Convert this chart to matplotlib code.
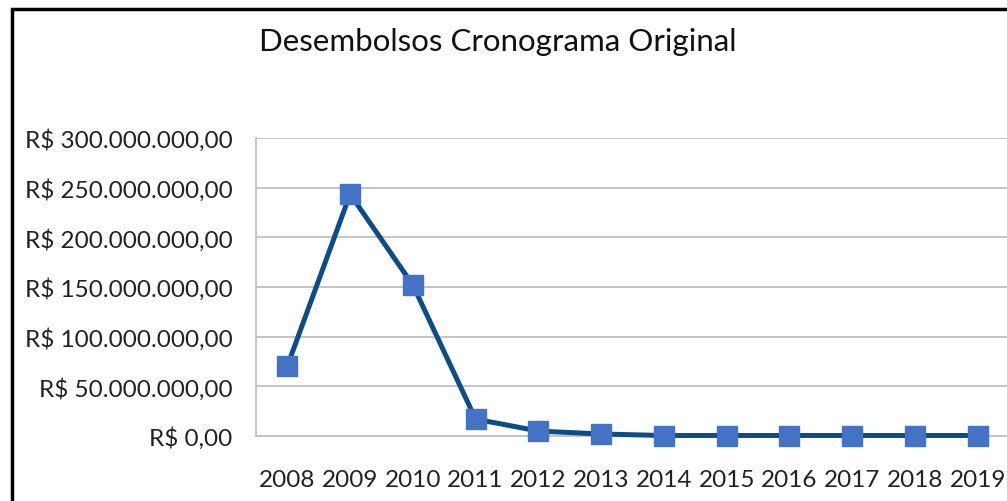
import matplotlib
matplotlib.use("Agg")
import matplotlib.pyplot as plt
from matplotlib.ticker import FuncFormatter, MultipleLocator
from matplotlib.patches import Rectangle

years = ["2008", "2009", "2010", "2011", "2012", "2013", "2014", "2015", "2016", "2017", "2018", "2019"]
values = [70_500_000, 243_500_000, 152_000_000, 17_000_000, 5_000_000, 2_000_000,
          500_000, 500_000, 500_000, 500_000, 500_000, 500_000]

plt.rcParams['font.family'] = ['Lato', 'DejaVu Sans']

W, H = 1007, 502
fig = plt.figure(figsize=(W / 100, H / 100), dpi=100)
ax = fig.add_axes([256 / W, 1 - 437 / H, (1009 - 256) / W, (437 - 139) / H])

x = list(range(len(years)))
ax.plot(x, values, color="#0E4C85", linewidth=3.6, marker="s", markersize=14,
        markerfacecolor="#4472C4", markeredgecolor="#4472C4", zorder=3, clip_on=False)

ax.set_xlim(-0.5, len(years) - 0.5)
ax.set_ylim(0, 300_000_000)
ax.yaxis.set_major_locator(MultipleLocator(50_000_000))

def fmt(v, pos):
    s = f"{int(round(v)):,}".replace(",", ".")
    return f"R$ {s},00"

ax.yaxis.set_major_formatter(FuncFormatter(fmt))
ax.set_xticks(x)
ax.set_xticklabels(years)
ax.tick_params(axis="both", length=0, labelsize=17.5, colors="#222222")
ax.tick_params(axis="y", pad=17)
ax.tick_params(axis="x", pad=24)

ax.grid(axis="y", color="#C0C0C0", linewidth=1.3)
ax.set_axisbelow(True)
for side in ["top", "right"]:
    ax.spines[side].set_visible(False)
ax.spines["left"].set_color("#C0C0C0")
ax.spines["bottom"].set_color("#C0C0C0")
ax.spines["left"].set_linewidth(1.3)
ax.spines["bottom"].set_linewidth(1.3)

fig.text(498 / W, 1 - 42 / H, "Desembolsos Cronograma Original", ha="center", va="center",
         fontsize=22.5, color="#111111")

fig.patches.append(Rectangle((12 / W, -0.1), 1.2, 1 - 10 / H + 0.1, transform=fig.transFigure,
                             fill=False, edgecolor="black", linewidth=2.5))

fig.savefig("out.png", dpi=100)
